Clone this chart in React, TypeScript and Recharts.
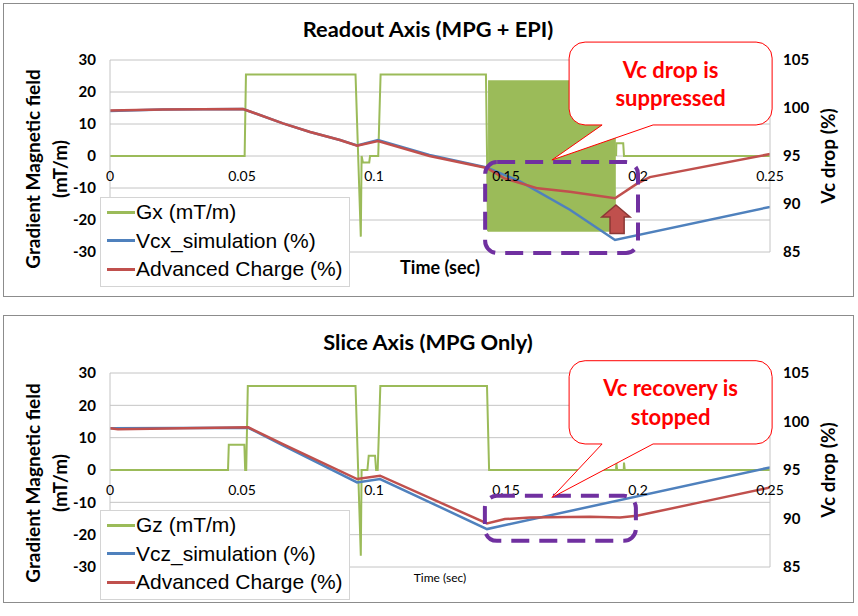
import React from 'react';
import { ComposedChart, Line, Area, XAxis, YAxis, CartesianGrid, ReferenceArea, Legend } from 'recharts';

// axes
const timeTicks = [0, 0.05, 0.1, 0.15, 0.2, 0.25];
const fieldTicks = [-30, -20, -10, 0, 10, 20, 30];
const vcTicks = [85, 90, 95, 100, 105];

// Readout axis (MPG + EPI)
const gxTime = [0, 0.051, 0.0515, 0.093, 0.095, 0.0953, 0.0958, 0.0982, 0.0985, 0.1016, 0.1025, 0.1424, 0.1432, 0.17, 0.1917, 0.1918, 0.1944, 0.1947, 0.25];
const gxValue = [0, 0, 25.5, 25.5, -25.2, 0, -2, -2, 0, 0, 25.5, 25.5, -23.5, null, 0, 4, 4, 0, 0];
const epiTime = [0.1432, 0.1916];
const epiLow = [-23.7, -23.7];
const epiHigh = [23.7, 23.7];
const vcxTime = [0, 0.02, 0.0504, 0.0655, 0.0758, 0.0871, 0.0936, 0.1015, 0.121, 0.1427, 0.1553, 0.1742, 0.1913, 0.25];
const vcxValue = [99.7, 99.85, 99.9, 98.4, 97.5, 96.67, 96.1, 96.65, 95.1, 93.8, 92.35, 89.4, 86.25, 89.7];
const acxTime = [0, 0.02, 0.0504, 0.0655, 0.0758, 0.0871, 0.0936, 0.1015, 0.121, 0.1427, 0.1492, 0.162, 0.1742, 0.1913, 0.1995, 0.2045, 0.25];
const acxValue = [99.75, 99.85, 99.9, 98.4, 97.5, 96.67, 96.07, 96.56, 95.0, 93.75, 92.7, 91.63, 91.28, 90.6, 92.1, 92.8, 95.2];

// Slice axis (MPG only)
const gzTime = [0, 0.0447, 0.045, 0.0509, 0.0512, 0.0516, 0.0522, 0.093, 0.095, 0.0953, 0.0975, 0.098, 0.1004, 0.1008, 0.1014, 0.1024, 0.1428, 0.1436, 0.1917, 0.1918, 0.1921, 0.1946, 0.1947, 0.195, 0.25];
const gzValue = [0, 0, 7.8, 7.8, 0, 0, 26, 26, -26.5, 0, 0, 4.4, 4.4, 0, 0, 26, 26, 0, 0, 2.3, 0, 0, 2.3, 0, 0];
const vczTime = [0, 0.0524, 0.0655, 0.0936, 0.1023, 0.1428, 0.25];
const vczValue = [99.3, 99.35, 97.55, 93.72, 94.07, 88.91, 95.27];
const aczTime = [0, 0.003, 0.0524, 0.0655, 0.0936, 0.1023, 0.1428, 0.1496, 0.1591, 0.1818, 0.1932, 0.1996, 0.2235, 0.25];
const aczValue = [99.3, 99.2, 99.4, 97.68, 94.07, 94.41, 89.49, 89.94, 90.11, 90.18, 90.1, 90.28, 91.66, 93.2];

const readoutLegend = ['Gx (mT/m)', 'Vcx_simulation (%)', 'Advanced Charge (%)'];
const sliceLegend = ['Gz (mT/m)', 'Vcz_simulation (%)', 'Advanced Charge (%)'];
const colors = ['#9BBB59', '#4F81BD', '#C0504D'];

// annotations, in data units (time, field)
const readoutNote = { x1: 0.1739, x2: 0.2508, y1: 9.7, y2: 35.6, tipT: 0.1674, tipV: -1.25, baseT1: 0.1864, baseT2: 0.2057, lines: ['Vc drop is', 'suppressed'] };
const sliceNote = { x1: 0.1739, x2: 0.2508, y1: 8.05, y2: 33.8, tipT: 0.1674, tipV: -8.5, baseT1: 0.1864, baseT2: 0.2057, lines: ['Vc recovery is', 'stopped'] };
const readoutBox = { x1: 0.1421, x2: 0.2, y1: -30.3, y2: -1.9 };
const sliceBox = { x1: 0.142, x2: 0.1992, y1: -21.9, y2: -8 };
const readoutArrow = { x1: 0.1863, x2: 0.197, y1: -24.2, y2: -15.3 };

const zip = (t: number[], v: (number | null)[]) => t.map((x, i) => ({ t: x, v: v[i] }));
const band = (t: number[], lo: number[], hi: number[]) => t.map((x, i) => ({ t: x, band: [lo[i], hi[i]] }));

const FONT = 'Lato, "Liberation Sans", sans-serif';
const MARGIN = { top: 60, right: 18, bottom: 18, left: 10 };

function TimeTick(props: any) {
  const { x, payload, zeroY } = props;
  return (
    <text x={x} y={zeroY + 20} dy="0.35em" textAnchor="middle" fontFamily={FONT} fontSize={14} fill="#000">
      {String(payload.value)}
    </text>
  );
}

function LeftTitle(props: any) {
  const { viewBox } = props;
  const cy = viewBox.y + viewBox.height / 2 + 13;
  return (
    <g fontFamily={FONT} fontWeight="bold" fontSize={19} fill="#000" textAnchor="middle">
      <text transform={`translate(${viewBox.x + 23},${cy}) rotate(-90)`} dy="0.35em">Gradient Magnetic field</text>
      <text transform={`translate(${viewBox.x + 50},${cy}) rotate(-90)`} dy="0.35em">(mT/m)</text>
    </g>
  );
}

function RightTitle(props: any) {
  const { viewBox } = props;
  const cy = viewBox.y + viewBox.height / 2;
  return (
    <text transform={`translate(${viewBox.x + 58},${cy}) rotate(-90)`} dy="0.35em" textAnchor="middle"
      fontFamily={FONT} fontWeight="bold" fontSize={19} fill="#000">Vc drop (%)</text>
  );
}

function TimeTitle(props: any) {
  const { viewBox, small } = props;
  return (
    <text x={viewBox.x + viewBox.width / 2} y={viewBox.y + (small ? 11 : 16)} dy="0.35em" textAnchor="middle"
      fontFamily={FONT} fontWeight={small ? 'normal' : 'bold'} fontSize={small ? 12 : 18} fill="#000">Time (sec)</text>
  );
}

function Callout(props: any) {
  const { x, y, width: w, height: h, note } = props;
  const sx = w / (note.x2 - note.x1);
  const sy = h / (note.y2 - note.y1);
  const px = (t: number) => x + (t - note.x1) * sx;
  const py = (v: number) => y + (note.y2 - v) * sy;
  const r = 16;
  const b1 = px(note.baseT1);
  const b2 = px(note.baseT2);
  const tx = px(note.tipT);
  const ty = py(note.tipV);
  const d = `M${x + r},${y} H${x + w - r} A${r},${r} 0 0 1 ${x + w},${y + r} V${y + h - r} A${r},${r} 0 0 1 ${x + w - r},${y + h} H${b2} L${tx},${ty} L${b1},${y + h} H${x + r} A${r},${r} 0 0 1 ${x},${y + h - r} V${y + r} A${r},${r} 0 0 1 ${x + r},${y} Z`;
  return (
    <g>
      <path d={d} fill="#fff" stroke="#ff0000" strokeWidth={1} />
      {note.lines.map((s: string, i: number) => (
        <text key={s} x={x + w / 2} y={y + h * (0.335 + 0.34 * i)} dy="0.35em" textAnchor="middle"
          fill="#ff0000" fontWeight="bold" fontSize={22} fontFamily={FONT}>{s}</text>
      ))}
    </g>
  );
}

function DashedBox(props: any) {
  const { x, y, width, height } = props;
  return <rect x={x} y={y} width={width} height={height} rx={12} fill="none" stroke="#7030A0" strokeWidth={4} strokeDasharray="18 10" />;
}

function UpArrow(props: any) {
  const { x, y, width: w, height: h } = props;
  const hy = y + h * 0.42;
  const pts = [
    [x + w / 2, y], [x + w, hy], [x + w * 0.79, hy], [x + w * 0.79, y + h],
    [x + w * 0.29, y + h], [x + w * 0.29, hy], [x, hy],
  ].map((p) => p.join(',')).join(' ');
  return <polygon points={pts} fill="#C0504D" stroke="#8C3836" strokeWidth={1.5} />;
}

function LegendBox({ names }: { names: string[] }) {
  return (
    <div style={{ width: 250, height: 90, background: '#fff', border: '1px solid #d4d4d4', boxSizing: 'border-box',
      fontFamily: '"Liberation Sans", Arial, sans-serif', fontSize: 21, color: '#000' }}>
      {names.map((n, i) => (
        <div key={n} style={{ display: 'flex', alignItems: 'center', height: 28.5, whiteSpace: 'nowrap' }}>
          <span style={{ display: 'inline-block', width: 28, height: 3, background: colors[i], marginLeft: 6, marginRight: 1 }} />
          {n}
        </div>
      ))}
    </div>
  );
}

type PanelProps = {
  top: number;
  height: number;
  boxTop: number;
  boxHeight: number;
  title: string;
  names: string[];
  g: { t: number; v: number | null }[];
  epi?: { t: number; band: number[] }[];
  vc: { t: number; v: number | null }[];
  ac: { t: number; v: number | null }[];
  note: any;
  box: any;
  arrow?: any;
  smallTime?: boolean;
};

function Panel(p: PanelProps) {
  const plotH = p.height - MARGIN.top - MARGIN.bottom - 30;
  const zeroY = MARGIN.top + plotH / 2;
  return (
    <div style={{ position: 'absolute', left: 0, top: p.top, width: 858, height: p.height }}>
      <div style={{ position: 'absolute', left: 3, top: p.boxTop, width: 851, height: p.boxHeight, border: '1.5px solid #8c8c8c', boxSizing: 'border-box' }} />
      <div style={{ position: 'absolute', left: 0, top: 28, width: 856, transform: 'translateY(-50%)', textAlign: 'center',
        fontFamily: FONT, fontWeight: 'bold', fontSize: 21.8, color: '#000' }}>{p.title}</div>
      <div style={{ position: 'absolute', left: 0, top: 0 }}>
        <ComposedChart width={858} height={p.height} margin={MARGIN}>
          <CartesianGrid yAxisId="left" vertical={false} stroke="#c4c4c4" strokeWidth={1} />
          <XAxis dataKey="t" type="number" domain={[0, 0.25]} ticks={timeTicks} interval={0} allowDataOverflow
            axisLine={false} tickLine={false} height={30}
            tick={(tp: any) => <TimeTick {...tp} zeroY={zeroY} />}
            label={<TimeTitle small={p.smallTime} />} />
          <YAxis yAxisId="left" domain={[-30, 30]} ticks={fieldTicks} interval={0} width={100}
            axisLine={{ stroke: '#c4c4c4' }} tickLine={false} tickSize={0} tickMargin={14}
            tick={{ fontFamily: FONT, fontWeight: 'bold', fontSize: 15, fill: '#000' }}
            label={<LeftTitle />} />
          <YAxis yAxisId="right" orientation="right" domain={[85, 105]} ticks={vcTicks} interval={0} width={70}
            axisLine={{ stroke: '#c4c4c4' }} tickLine={false} tickSize={0} tickMargin={13}
            tick={{ fontFamily: FONT, fontWeight: 'bold', fontSize: 15, fill: '#000' }}
            label={<RightTitle />} />
          {p.epi && (
            <Area data={p.epi} dataKey="band" yAxisId="left" type="linear" stroke="none" fill={colors[0]} fillOpacity={1}
              isAnimationActive={false} dot={false} activeDot={false} />
          )}
          <Line data={p.g} dataKey="v" yAxisId="left" type="linear" stroke={colors[0]} strokeWidth={2} dot={false}
            activeDot={false} isAnimationActive={false} />
          <Line data={p.vc} dataKey="v" yAxisId="right" type="linear" stroke={colors[1]} strokeWidth={2.5} dot={false}
            activeDot={false} isAnimationActive={false} />
          <Line data={p.ac} dataKey="v" yAxisId="right" type="linear" stroke={colors[2]} strokeWidth={2.5} dot={false}
            activeDot={false} isAnimationActive={false} />
          <ReferenceArea yAxisId="left" x1={p.box.x1} x2={p.box.x2} y1={p.box.y1} y2={p.box.y2} ifOverflow="visible"
            zIndex={2100} shape={(sp: any) => <DashedBox {...sp} />} />
          {p.arrow && (
            <ReferenceArea yAxisId="left" x1={p.arrow.x1} x2={p.arrow.x2} y1={p.arrow.y1} y2={p.arrow.y2} ifOverflow="visible"
              zIndex={2100} shape={(sp: any) => <UpArrow {...sp} />} />
          )}
          <ReferenceArea yAxisId="left" x1={p.note.x1} x2={p.note.x2} y1={p.note.y1} y2={p.note.y2} ifOverflow="visible"
            zIndex={2100} shape={(sp: any) => <Callout {...sp} note={p.note} />} />
          <Legend layout="horizontal" verticalAlign="middle" align="center"
            wrapperStyle={{ position: 'absolute', left: 100, top: 197, width: 250, height: 90 }}
            content={() => <LegendBox names={p.names} />} />
        </ComposedChart>
      </div>
    </div>
  );
}

export default function App() {
  return (
    <div style={{ position: 'absolute', left: 0, top: 0, width: 858, height: 616, background: '#fff' }}>
      <Panel top={0} height={300} boxTop={3} boxHeight={294} title="Readout Axis (MPG + EPI)" names={readoutLegend}
        g={zip(gxTime, gxValue)} epi={band(epiTime, epiLow, epiHigh)} vc={zip(vcxTime, vcxValue)} ac={zip(acxTime, acxValue)}
        note={readoutNote} box={readoutBox} arrow={readoutArrow} />
      <Panel top={313} height={302} boxTop={2} boxHeight={288} title="Slice Axis (MPG Only)" names={sliceLegend}
        g={zip(gzTime, gzValue)} vc={zip(vczTime, vczValue)} ac={zip(aczTime, aczValue)}
        note={sliceNote} box={sliceBox} smallTime />
    </div>
  );
}
